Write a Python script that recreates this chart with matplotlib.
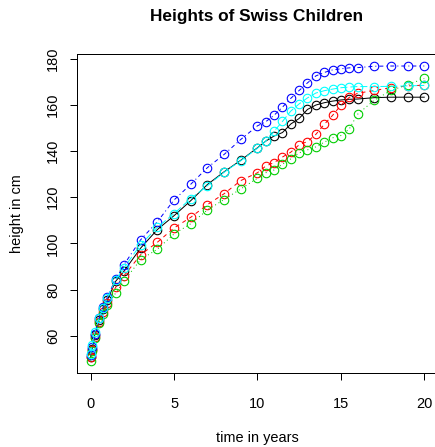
import numpy as np
import matplotlib
matplotlib.use('Agg')
import matplotlib.pyplot as plt

plt.rcParams['font.family'] = ['Liberation Sans', 'DejaVu Sans']

# edades de medicion (anos)
age = [0, 1/12, 0.25, 0.5, 0.75, 1, 1.5, 2, 3, 4, 5, 6, 7, 8, 9, 10,
       10.5, 11, 11.5, 12, 12.5, 13, 13.5, 14, 14.5, 15, 15.5, 16, 17, 18, 19, 20]

# alturas de cinco ninos (cm)
child1 = [51, 54.5, 60.5, 67, 71.5, 75.5, 83.6, 88, 98, 106, 112, 118.5, 125.5, 131, 136, 141.4,
          144.3, 146.5, 148, 151.7, 154.1, 158, 159.9, 160.9, 161.6, 162.1, 162.4, 162.5, 163.1, 163.3, 163.3, 163.3]
child2 = [51, 54, 59.5, 66, 70.5, 74, 81, 86, 95.1, 100.5, 106.7, 111.3, 116.8, 121.5, 127.2, 130.6,
          133.5, 135, 137.4, 139.5, 142.7, 144.1, 147.2, 151.5, 155.4, 159.8, 163.2, 165, 166.2, 167.4, 168.2, 168.5]
child3 = [49, 53.5, 59, 65.5, 69.5, 73.5, 78.5, 83.8, 93, 97.5, 104.1, 108.5, 114.5, 119, 123.6, 128.2,
          130.6, 131.8, 134.3, 136.6, 139.2, 140.5, 141.8, 143.8, 145.7, 146.7, 149.5, 155.9, 162, 166.2, 168.7, 171.4]
child4 = [51.5, 55, 61, 67.5, 72.5, 76.8, 84.5, 90.8, 101.6, 109.4, 118.8, 125.6, 132.8, 138.5, 145, 150.9,
          152.7, 155.5, 159, 162.8, 166.2, 169.5, 172.5, 174, 175.1, 175.6, 176, 176.1, 176.7, 176.8, 176.8, 176.8]
child5 = [52, 56, 61.5, 67.5, 72, 76.5, 84.3, 89.5, 99.5, 107, 112.9, 119.4, 125, 130.8, 135.8, 141.2,
          144.3, 148.6, 152.8, 157.3, 160.4, 163, 165.1, 166.1, 166.8, 167.4, 167.7, 167.9, 167.9, 168, 168.2, 168.4]

heights = [child1, child2, child3, child4, child5]
colors = ['black', 'red', '#00CD00', 'blue', 'cyan']
styles = ['-', (0, (4, 4)), (0, (1, 3)), (0, (1, 3, 4, 3)), (0, (7, 3))]

W, H = 435, 447
fig = plt.figure(figsize=(W / 72, H / 72), dpi=72)
ax = fig.add_axes([77.3 / W, 1 - 373 / H, (437.6 - 77.3) / W, (373 - 54) / H])

for h, c, ls in zip(heights, colors, styles):
    ax.plot(age, h, color=c, linestyle=ls, linewidth=1, marker='o', markersize=8.5,
            markerfacecolor='none', markeredgecolor=c, markeredgewidth=1.1)

ax.set_xlim(-0.8, 20.8)
ax.set_ylim(43.9, 182.0)
ax.set_xticks([0, 5, 10, 15, 20])
ax.set_yticks([60, 80, 100, 120, 140, 160, 180])
ax.tick_params(direction='out', length=7, width=1, labelsize=14.5)
ax.tick_params(axis='x', pad=16.5)
ax.tick_params(axis='y', pad=10)
for lab in ax.get_yticklabels():
    lab.set_rotation(90)
    lab.set_va('center')
for s in ax.spines.values():
    s.set_linewidth(1)

fig.text(257 / W, 1 - 17 / H, 'Heights of Swiss Children', ha='center', va='center',
         fontsize=17.3, fontweight='bold')
fig.text(257 / W, 1 - 438 / H, 'time in years', ha='center', va='center', fontsize=14.5)
fig.text(17 / W, 1 - 213.5 / H, 'height in cm', ha='center', va='center', fontsize=14.5, rotation=90)

fig.savefig('out.png', dpi=72)
